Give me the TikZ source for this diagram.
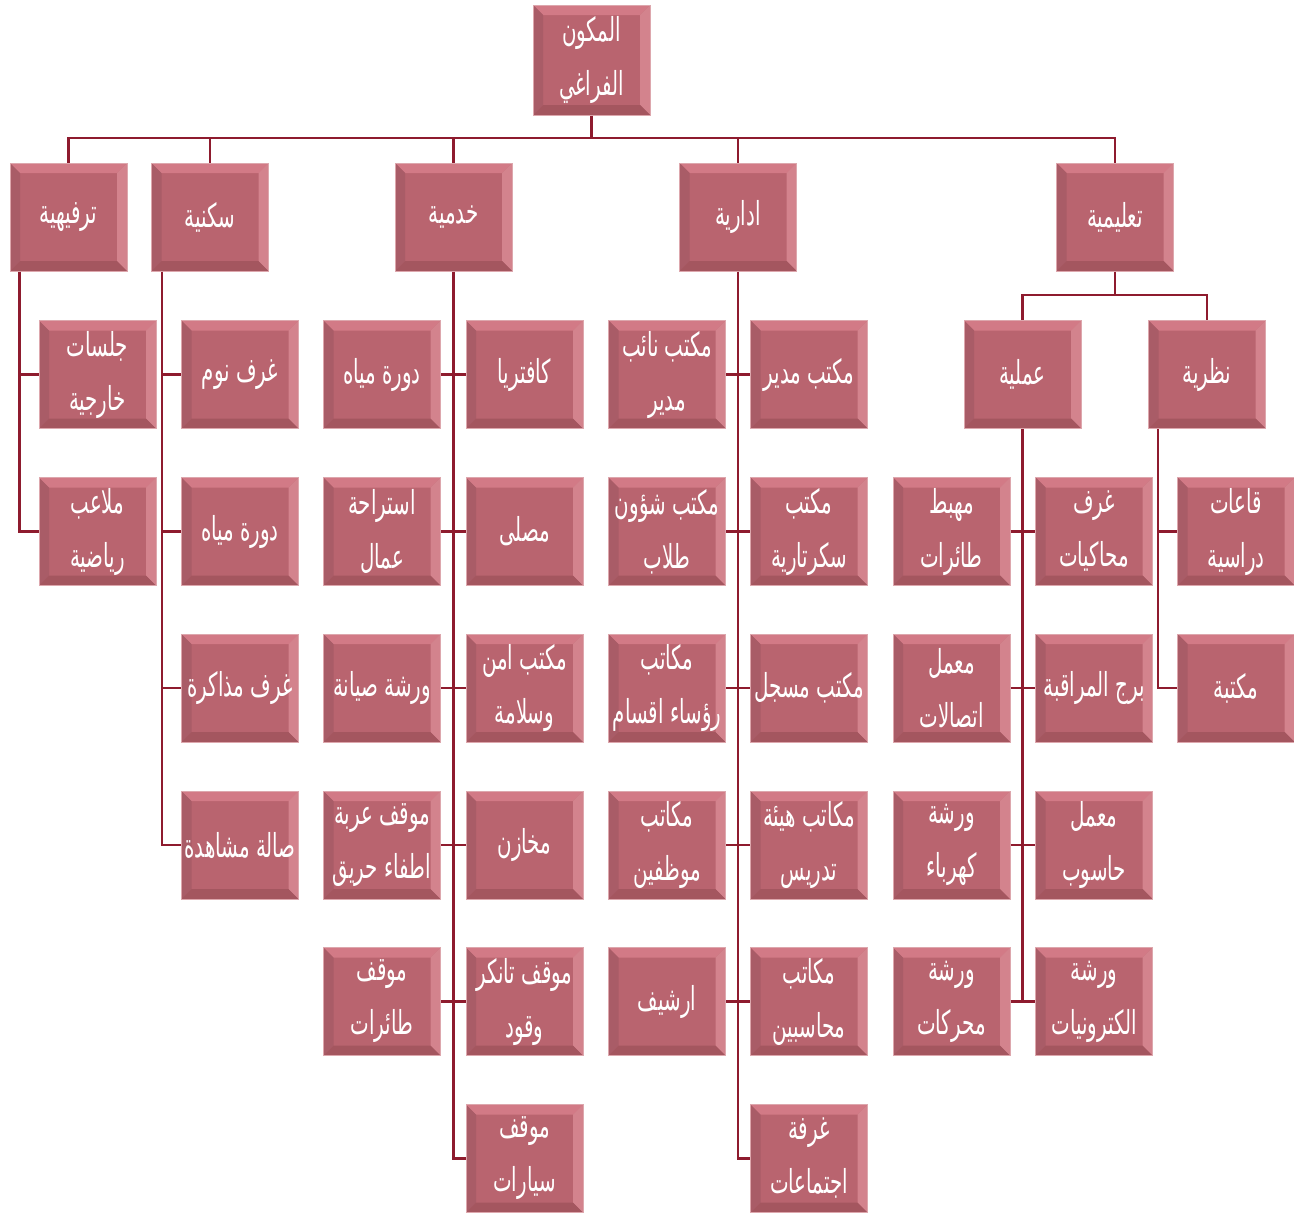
\documentclass[tikz,border=0pt]{standalone}
\usepackage{fontspec}
\TeXXeTstate=1
\newfontfamily\arabicfont[Script=Arabic,FakeStretch=0.6]{DejaVu Sans}
\definecolor{boxc}{HTML}{B9646F}
\definecolor{btop}{HTML}{D27A86}
\definecolor{bright}{HTML}{D3838D}
\definecolor{bleft}{HTML}{A95C67}
\definecolor{bbot}{HTML}{A4565F}
\definecolor{bedge}{HTML}{DDA7AD}
\definecolor{lnc}{HTML}{8E1B2E}
\newcommand\ar[1]{\beginR #1\endR}
\begin{document}
\begin{tikzpicture}[x=1pt,y=-1pt,
  bx/.style={rectangle, minimum width=117pt, minimum height=108pt, inner sep=0pt,
    fill=boxc, draw=bedge, line width=1pt, text=white, align=center,
    font=\arabicfont\fontsize{33}{54}\selectfont,
    path picture={
      \fill[btop] (path picture bounding box.north west) -- (path picture bounding box.north east)
        -- ([shift={(-10pt,-10pt)}]path picture bounding box.north east)
        -- ([shift={(10pt,-10pt)}]path picture bounding box.north west) -- cycle;
      \fill[bright] (path picture bounding box.north east) -- (path picture bounding box.south east)
        -- ([shift={(-10pt,10pt)}]path picture bounding box.south east)
        -- ([shift={(-10pt,-10pt)}]path picture bounding box.north east) -- cycle;
      \fill[bleft] (path picture bounding box.north west) -- (path picture bounding box.south west)
        -- ([shift={(10pt,10pt)}]path picture bounding box.south west)
        -- ([shift={(10pt,-10pt)}]path picture bounding box.north west) -- cycle;
      \fill[bbot] (path picture bounding box.south west) -- (path picture bounding box.south east)
        -- ([shift={(-10pt,10pt)}]path picture bounding box.south east)
        -- ([shift={(10pt,10pt)}]path picture bounding box.south west) -- cycle;
    }},
  ln/.style={draw=lnc, line width=2.4pt}]
\useasboundingbox (0,0) rectangle (1294,1213);

% root and level 1
\node[bx, minimum height=110pt] (root) at (591.5,60) {\ar{المكون}\\\ar{الفراغي}};
\node[bx] (trf) at (68.5,217) {\ar{ترفيهية}};
\node[bx] (skn) at (210,217) {\ar{سكنية}};
\node[bx] (khd) at (453.5,217) {\ar{خدمية}};
\node[bx] (idr) at (738,217) {\ar{ادارية}};
\node[bx] (tal) at (1115,217) {\ar{تعليمية}};

% ترفيهية
\node[bx] (t1) at (97.5,374.5) {\ar{جلسات}\\\ar{خارجية}};
\node[bx] (t2) at (97.5,531.5) {\ar{ملاعب}\\\ar{رياضية}};
% سكنية
\node[bx] (s1) at (240,374.5) {\ar{غرف نوم}};
\node[bx] (s2) at (240,531.5) {\ar{دورة مياه}};
\node[bx] (s3) at (240,688) {\ar{غرف مذاكرة}};
\node[bx] (s4) at (240,845) {\ar{صالة مشاهدة}};
% خدمية
\node[bx] (kR1) at (524.5,374.5) {\ar{كافتريا}};
\node[bx] (kL1) at (382,374.5) {\ar{دورة مياه}};
\node[bx] (kR2) at (524.5,531.5) {\ar{مصلى}};
\node[bx] (kL2) at (382,531.5) {\ar{استراحة}\\\ar{عمال}};
\node[bx] (kR3) at (524.5,688) {\ar{مكتب امن}\\\ar{وسلامة}};
\node[bx] (kL3) at (382,688) {\ar{ورشة صيانة}};
\node[bx] (kR4) at (524.5,845) {\ar{مخازن}};
\node[bx] (kL4) at (382,845) {\ar{موقف عربة}\\\ar{اطفاء حريق}};
\node[bx] (kR5) at (524.5,1001.5) {\ar{موقف تانكر}\\\ar{وقود}};
\node[bx] (kL5) at (382,1001.5) {\ar{موقف}\\\ar{طائرات}};
\node[bx] (kR6) at (524.5,1158.5) {\ar{موقف}\\\ar{سيارات}};
% ادارية
\node[bx] (iR1) at (809,374.5) {\ar{مكتب مدير}};
\node[bx] (iL1) at (667,374.5) {\ar{مكتب نائب}\\\ar{مدير}};
\node[bx] (iR2) at (809,531.5) {\ar{مكتب}\\\ar{سكرتارية}};
\node[bx] (iL2) at (667,531.5) {\ar{مكتب شؤون}\\\ar{طلاب}};
\node[bx] (iR3) at (809,688) {\ar{مكتب مسجل}};
\node[bx] (iL3) at (667,688) {\ar{مكاتب}\\\ar{رؤساء اقسام}};
\node[bx] (iR4) at (809,845) {\ar{مكاتب هيئة}\\\ar{تدريس}};
\node[bx] (iL4) at (667,845) {\ar{مكاتب}\\\ar{موظفين}};
\node[bx] (iR5) at (809,1001.5) {\ar{مكاتب}\\\ar{محاسبين}};
\node[bx] (iL5) at (667,1001.5) {\ar{ارشيف}};
\node[bx] (iR6) at (809,1158.5) {\ar{غرفة}\\\ar{اجتماعات}};
% تعليمية
\node[bx] (aml) at (1022.5,374.5) {\ar{عملية}};
\node[bx] (nzr) at (1207,374.5) {\ar{نظرية}};
\node[bx] (n1) at (1236,531.5) {\ar{قاعات}\\\ar{دراسية}};
\node[bx] (n2) at (1236,688) {\ar{مكتبة}};
\node[bx] (aR1) at (1094,531.5) {\ar{غرف}\\\ar{محاكيات}};
\node[bx] (aL1) at (951.5,531.5) {\ar{مهبط}\\\ar{طائرات}};
\node[bx] (aR2) at (1094,688) {\ar{برج المراقبة}};
\node[bx] (aL2) at (951.5,688) {\ar{معمل}\\\ar{اتصالات}};
\node[bx] (aR3) at (1094,845) {\ar{معمل}\\\ar{حاسوب}};
\node[bx] (aL3) at (951.5,845) {\ar{ورشة}\\\ar{كهرباء}};
\node[bx] (aR4) at (1094,1001.5) {\ar{ورشة}\\\ar{الكترونيات}};
\node[bx] (aL4) at (951.5,1001.5) {\ar{ورشة}\\\ar{محركات}};

% connectors
\coordinate (bus) at (591.5,138);
\coordinate (tbus) at (1115,295);
\draw[ln] (root.south) -- (bus);
\draw[ln] (trf.north) -- (trf.north |- bus) -- (tal.north |- bus) -- (tal.north);
\draw[ln] (skn.north) -- (skn.north |- bus);
\draw[ln] (khd.north) -- (khd.north |- bus);
\draw[ln] (idr.north) -- (idr.north |- bus);
% ترفيهية
\coordinate (trfs) at ([xshift=10pt]trf.south west);
\draw[ln] (trfs) |- (t2.west);
\draw[ln] (trfs |- t1.west) -- (t1.west);
% سكنية
\coordinate (skns) at ([xshift=11pt]skn.south west);
\draw[ln] (skns) |- (s4.west);
\draw[ln] (skns |- s1.west) -- (s1.west);
\draw[ln] (skns |- s2.west) -- (s2.west);
\draw[ln] (skns |- s3.west) -- (s3.west);
% خدمية
\draw[ln] (khd.south) |- (kR6.west);
\foreach \i in {1,...,5}{\draw[ln] (kL\i.east) -- (kR\i.west);}
% ادارية
\draw[ln] (idr.south) |- (iR6.west);
\foreach \i in {1,...,5}{\draw[ln] (iL\i.east) -- (iR\i.west);}
% تعليمية
\draw[ln] (tal.south) -- (tbus);
\draw[ln] (aml.north) |- (tbus) -| (nzr.north);
\coordinate (nzs) at ([xshift=10pt]nzr.south west);
\draw[ln] (nzs) |- (n2.west);
\draw[ln] (nzs |- n1.west) -- (n1.west);
\draw[ln] (aml.south) -- (aml.south |- aL4.east);
\foreach \i in {1,...,4}{\draw[ln] (aL\i.east) -- (aR\i.west);}
\end{tikzpicture}
\end{document}
